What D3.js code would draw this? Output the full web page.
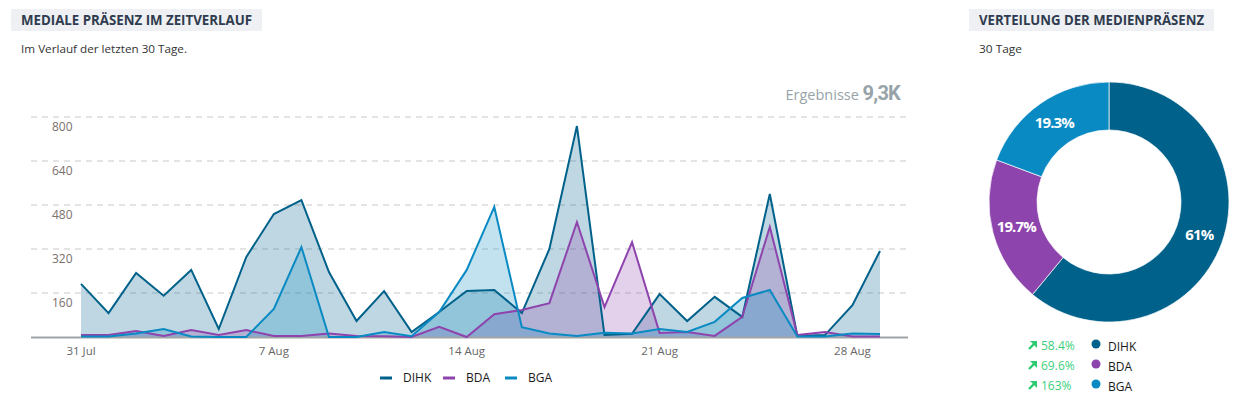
<!DOCTYPE html>
<html>
<head>
<meta charset="utf-8">
<script src="https://cdn.jsdelivr.net/npm/d3@7"></script>
<style>
  body { margin: 0; background: #fff; }
  text { font-family: "Open Sans", sans-serif; }
</style>
</head>
<body>
<svg id="chart" width="1240" height="400"></svg>
<script>
// daily counts, 31 Jul .. 29 Aug
var days = ["2023-07-31","2023-08-01","2023-08-02","2023-08-03","2023-08-04","2023-08-05","2023-08-06","2023-08-07","2023-08-08","2023-08-09",
  "2023-08-10","2023-08-11","2023-08-12","2023-08-13","2023-08-14","2023-08-15","2023-08-16","2023-08-17","2023-08-18","2023-08-19",
  "2023-08-20","2023-08-21","2023-08-22","2023-08-23","2023-08-24","2023-08-25","2023-08-26","2023-08-27","2023-08-28","2023-08-29"];
var dihk = [193, 87, 233, 150, 244, 29, 291, 447, 498, 236, 58, 167, 18, 91, 167, 171, 87, 320, 767, 7, 12, 156, 58, 146, 73, 520, 4, 7, 116, 313];
var bda  = [7, 7, 22, 4, 25, 7, 25, 4, 4, 13, 4, 3, 0, 37, 0, 83, 98, 123, 418, 109, 345, 15, 18, 4, 73, 400, 7, 18, 2, 2];
var bga  = [2, 2, 13, 29, 2, 0, 0, 102, 327, 0, 0, 18, 3, 91, 244, 473, 36, 13, 4, 15, 13, 29, 18, 55, 142, 171, 2, 2, 13, 11];
var yTicks = [160, 320, 480, 640, 800];

var seriesNames = ["DIHK", "BDA", "BGA"];
var seriesColors = ["#00618a", "#8e44ad", "#0a8ac3"];

// donut
var shareValues = [61, 19.7, 19.3];
var shareLabels = ["61%", "19.7%", "19.3%"];
var growth = ["58.4%", "69.6%", "163%"];

var svg = d3.select("#chart");
var parse = d3.timeParse("%Y-%m-%d");
var dates = days.map(parse);

// headers
function header(x, w, label, textW, sub, subW) {
  svg.append("rect").attr("x", x).attr("y", 9).attr("width", w).attr("height", 22).attr("fill", "#eef0f3");
  svg.append("text").attr("x", x + 10).attr("y", 25).text(label)
    .attr("font-family", "Roboto, sans-serif").attr("font-weight", "bold").attr("font-size", 13.5)
    .attr("fill", "#2f3b4e").attr("textLength", textW).attr("lengthAdjust", "spacingAndGlyphs");
  svg.append("text").attr("x", x + 10).attr("y", 53).text(sub)
    .attr("font-size", 11).attr("fill", "#333").attr("textLength", subW).attr("lengthAdjust", "spacingAndGlyphs");
}
header(11, 251, "MEDIALE PRÄSENZ IM ZEITVERLAUF", 231, "Im Verlauf der letzten 30 Tage.", 166);
header(969, 245, "VERTEILUNG DER MEDIENPRÄSENZ", 225, "30 Tage", 43);

// Ergebnisse
var erg = svg.append("text").attr("x", 900).attr("y", 100).attr("text-anchor", "end");
erg.append("tspan").text("Ergebnisse ").attr("font-size", 14.5).attr("fill", "#97a3a8");
erg.append("tspan").text("9,3K").attr("font-size", 20).attr("font-weight", "bold").attr("fill", "#97a3a8")
  .attr("font-family", "Roboto, sans-serif").attr("letter-spacing", -0.8);

// scales
var x = d3.scaleTime().domain([dates[0], dates[dates.length - 1]]).range([81, 880]);
var y = d3.scaleLinear().domain([0, 800]).range([337, 117]);

// grid
svg.selectAll(".grid").data(yTicks).enter().append("line")
  .attr("x1", 31).attr("x2", 908)
  .attr("y1", d => y(d)).attr("y2", d => y(d))
  .attr("stroke", "#dcdcdc").attr("stroke-width", 1.5).attr("stroke-dasharray", "6,5");
svg.selectAll(".ylab").data(yTicks).enter().append("text")
  .attr("x", 52).attr("y", d => y(d) + 14)
  .attr("font-size", 12).attr("fill", "#7b716c").text(d => d);

// areas + lines
var allSeries = [dihk, bda, bga];
var area = d3.area().x((d, i) => x(dates[i])).y0(y(0)).y1(d => y(d));
var line = d3.line().x((d, i) => x(dates[i])).y(d => y(d));

allSeries.forEach(function (s, k) {
  svg.append("path").datum(s).attr("d", area)
    .attr("fill", seriesColors[k]).attr("fill-opacity", 0.25);
});

// x axis baseline
svg.append("line").attr("x1", 31).attr("x2", 908).attr("y1", 337.5).attr("y2", 337.5)
  .attr("stroke", "#a0a4a6").attr("stroke-width", 2);

allSeries.forEach(function (s, k) {
  svg.append("path").datum(s).attr("d", line)
    .attr("fill", "none").attr("stroke", seriesColors[k]).attr("stroke-width", 2)
    .attr("stroke-linejoin", "miter");
});

// x ticks
var fmt = d3.timeFormat("%-d %b");
var xTicks = dates.filter((d, i) => i % 7 === 0);
svg.selectAll(".xlab").data(xTicks).enter().append("text")
  .attr("x", d => x(d)).attr("y", 355).attr("text-anchor", "middle")
  .attr("font-size", 11.5).attr("fill", "#666").text(d => fmt(d));

// legend bottom
var legX = [380, 443, 505];
seriesNames.forEach(function (n, k) {
  svg.append("line").attr("x1", legX[k]).attr("x2", legX[k] + 12).attr("y1", 378).attr("y2", 378)
    .attr("stroke", seriesColors[k]).attr("stroke-width", 3);
  svg.append("text").attr("x", legX[k] + 23).attr("y", 382).attr("font-size", 12).attr("fill", "#1a1a1a").text(n);
});

// donut
var cx = 1109, cy = 202;
var pie = d3.pie().sort(null);
var arc = d3.arc().innerRadius(72).outerRadius(120);
var g = svg.append("g").attr("transform", "translate(" + cx + "," + cy + ")");
var arcs = pie(shareValues);
g.selectAll("path").data(arcs).enter().append("path")
  .attr("d", arc).attr("fill", (d, i) => seriesColors[i]).attr("stroke", "#fff").attr("stroke-width", 0.7);
g.selectAll("text").data(arcs).enter().append("text")
  .attr("transform", d => "translate(" + arc.centroid(d) + ")")
  .attr("text-anchor", "middle").attr("dy", "0.35em")
  .attr("font-family", "Roboto, sans-serif").attr("font-weight", "bold").attr("font-size", 15)
  .attr("letter-spacing", -0.9).attr("fill", "#fff")
  .text((d, i) => shareLabels[i]);

// donut legend
seriesNames.forEach(function (n, k) {
  var ry = 346 + k * 20;
  var a = svg.append("g").attr("transform", "translate(1028," + (ry - 5) + ")");
  a.append("line").attr("x1", 1).attr("y1", 8).attr("x2", 6).attr("y2", 3)
    .attr("stroke", "#2ecc71").attr("stroke-width", 2.4);
  a.append("path").attr("d", "M2,0 L9,0 L9,7 Z").attr("fill", "#2ecc71");
  svg.append("text").attr("x", 1041).attr("y", ry + 4).attr("font-size", 12).attr("fill", "#3ccf7d").text(growth[k]);
  svg.append("circle").attr("cx", 1096).attr("cy", ry - 2).attr("r", 4.5).attr("fill", seriesColors[k]);
  svg.append("text").attr("x", 1108).attr("y", ry + 5).attr("font-size", 12).attr("fill", "#1a1a1a").text(n);
});
</script>
</body>
</html>
